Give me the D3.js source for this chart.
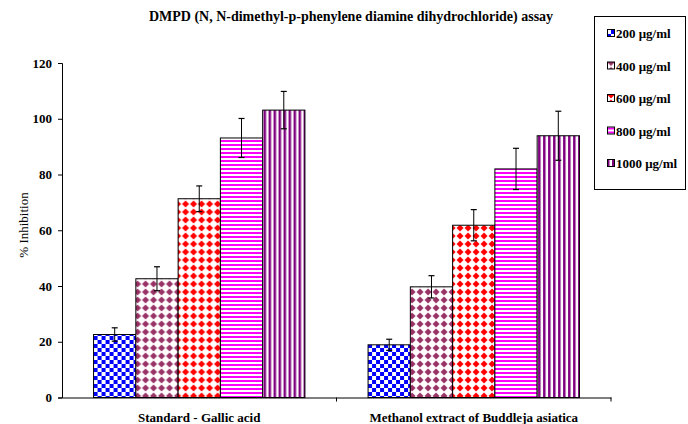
<!DOCTYPE html>
<html>
<head>
<meta charset="utf-8">
<script src="https://cdn.jsdelivr.net/npm/d3@7"></script>
<style>
  html, body { margin: 0; padding: 0; background: #fff; }
  svg { display: block; }
  text { font-family: "Liberation Serif", "Times New Roman", serif; }
</style>
</head>
<body>
<svg id="chart" width="688" height="424"></svg>
<script>
const categories = ["Standard - Gallic acid", "Methanol extract of Buddleja asiatica"];
const seriesNames = ["200 μg/ml", "400 μg/ml", "600 μg/ml", "800 μg/ml", "1000 μg/ml"];
const valuesGallic = [22.6, 42.6, 71.3, 93.1, 103.1];
const valuesExtract = [18.9, 39.7, 61.8, 82.0, 93.9];
const errorsGallic = [2.4, 4.3, 4.6, 7.0, 6.7];
const errorsExtract = [2.0, 4.0, 5.6, 7.4, 8.8];
const yTicks = [0, 20, 40, 60, 80, 100, 120];
const title = "DMPD (N, N-dimethyl-p-phenylene diamine dihydrochloride) assay";
const yTitle = "% Inhibition";

const svg = d3.select("#chart");
const x0 = 62, x1 = 611, yTop = 63, yBot = 397.5;

const x = d3.scaleBand().domain(categories).range([x0, x1]).paddingInner(0.23).paddingOuter(0.115);
const xs = d3.scaleBand().domain(seriesNames).range([0, x.bandwidth()]);
const y = d3.scaleLinear().domain([0, 120]).range([yBot, yTop]);

// patterns
const defs = svg.append("defs");
const p1 = defs.append("pattern").attr("id", "pat0").attr("patternUnits", "userSpaceOnUse").attr("width", 8).attr("height", 8);
p1.append("rect").attr("width", 8).attr("height", 8).attr("fill", "#fff");
p1.append("rect").attr("width", 4).attr("height", 4).attr("fill", "#0000ff");
p1.append("rect").attr("x", 4).attr("y", 4).attr("width", 4).attr("height", 4).attr("fill", "#0000ff");
function diamondPattern(id, color) {
  const p = defs.append("pattern").attr("id", id).attr("patternUnits", "userSpaceOnUse").attr("width", 8).attr("height", 8);
  p.append("rect").attr("width", 8).attr("height", 8).attr("fill", "#fff");
  p.append("path").attr("d", "M4,0.5 L7.5,4 L4,7.5 L0.5,4 Z").attr("fill", color);
}
diamondPattern("pat1", "#993366");
diamondPattern("pat2", "#ff0000");
const p4 = defs.append("pattern").attr("id", "pat3").attr("patternUnits", "userSpaceOnUse").attr("width", 4).attr("height", 4);
p4.append("rect").attr("width", 4).attr("height", 4).attr("fill", "#fff");
p4.append("rect").attr("width", 4).attr("height", 2).attr("fill", "#ff00ff");
const p5 = defs.append("pattern").attr("id", "pat4").attr("patternUnits", "userSpaceOnUse").attr("width", 5).attr("height", 5);
p5.append("rect").attr("width", 5).attr("height", 5).attr("fill", "#fff");
p5.append("rect").attr("width", 2.5).attr("height", 5).attr("fill", "#800080");

// title
svg.append("text").attr("x", 351).attr("y", 21).attr("text-anchor", "middle")
  .attr("font-size", 14).attr("font-weight", "bold").text(title);

// y axis
const yAxis = d3.axisLeft(y).tickValues(yTicks).tickSize(4).tickPadding(6);
const gy = svg.append("g").attr("transform", `translate(${x0},0)`).call(yAxis);
gy.select(".domain").attr("stroke", "#000");
gy.selectAll("text").attr("font-size", 13).attr("font-weight", "bold")
  .attr("font-family", "Liberation Serif, serif").attr("fill", "#000");

svg.append("text").attr("transform", `translate(28,225) rotate(-90)`)
  .attr("text-anchor", "middle").attr("font-size", 13).text(yTitle);

// bars
const data = categories.map((c, i) => ({
  cat: c,
  vals: i === 0 ? valuesGallic : valuesExtract,
  errs: i === 0 ? errorsGallic : errorsExtract
}));
const groups = svg.append("g").selectAll("g").data(data).join("g")
  .attr("transform", d => `translate(${x(d.cat)},0)`);
groups.selectAll("rect").data(d => d.vals.map((v, k) => ({v, k, e: d.errs[k]}))).join("rect")
  .attr("x", d => xs(seriesNames[d.k]))
  .attr("y", d => y(d.v))
  .attr("width", xs.bandwidth())
  .attr("height", d => y(0) - y(d.v))
  .attr("fill", d => `url(#pat${d.k})`)
  .attr("stroke", "#000").attr("stroke-width", 1);

// error bars
const eb = groups.selectAll("g.err").data(d => d.vals.map((v, k) => ({v, k, e: d.errs[k]}))).join("g").attr("class", "err");
eb.append("line")
  .attr("x1", d => xs(seriesNames[d.k]) + xs.bandwidth() / 2)
  .attr("x2", d => xs(seriesNames[d.k]) + xs.bandwidth() / 2)
  .attr("y1", d => y(d.v + d.e)).attr("y2", d => y(d.v - d.e))
  .attr("stroke", "#000").attr("stroke-width", 1);
eb.selectAll("line.cap").data(d => [d.v + d.e, d.v - d.e].map(t => ({t, k: d.k}))).join("line").attr("class", "cap")
  .attr("x1", d => xs(seriesNames[d.k]) + xs.bandwidth() / 2 - 3)
  .attr("x2", d => xs(seriesNames[d.k]) + xs.bandwidth() / 2 + 3)
  .attr("y1", d => y(d.t)).attr("y2", d => y(d.t))
  .attr("stroke", "#000").attr("stroke-width", 1.2);

// x axis
const xAxis = d3.axisBottom(x).tickSize(0).tickPadding(12);
const gx = svg.append("g").attr("transform", `translate(0,${yBot})`).call(xAxis);
gx.select(".domain").attr("stroke", "#000");
gx.selectAll("text").attr("font-size", 13).attr("font-weight", "bold")
  .attr("font-family", "Liberation Serif, serif").attr("fill", "#000").attr("dy", "0.95em");
const sepTicks = [x0 + (x1 - x0) / 2, x1];
svg.append("g").selectAll("line").data(sepTicks).join("line")
  .attr("x1", d => d).attr("x2", d => d).attr("y1", yBot).attr("y2", yBot + 4).attr("stroke", "#000");

// legend
const lg = svg.append("g");
lg.append("rect").attr("x", 594.5).attr("y", 16.5).attr("width", 91).attr("height", 173)
  .attr("fill", "#fff").attr("stroke", "#000");
const ly = d3.scalePoint().domain(seriesNames).range([34, 164]);
const li = lg.selectAll("g").data(seriesNames).join("g")
  .attr("transform", d => `translate(607,${ly(d)})`);
li.append("rect").attr("x", 0.5).attr("y", -4.5).attr("width", 7).attr("height", 7)
  .attr("fill", (d, i) => `url(#pat${i})`).attr("stroke", "#000");
li.append("text").attr("x", 9).attr("y", 4).attr("font-size", 13).attr("font-weight", "bold").text(d => d);
</script>
</body>
</html>
